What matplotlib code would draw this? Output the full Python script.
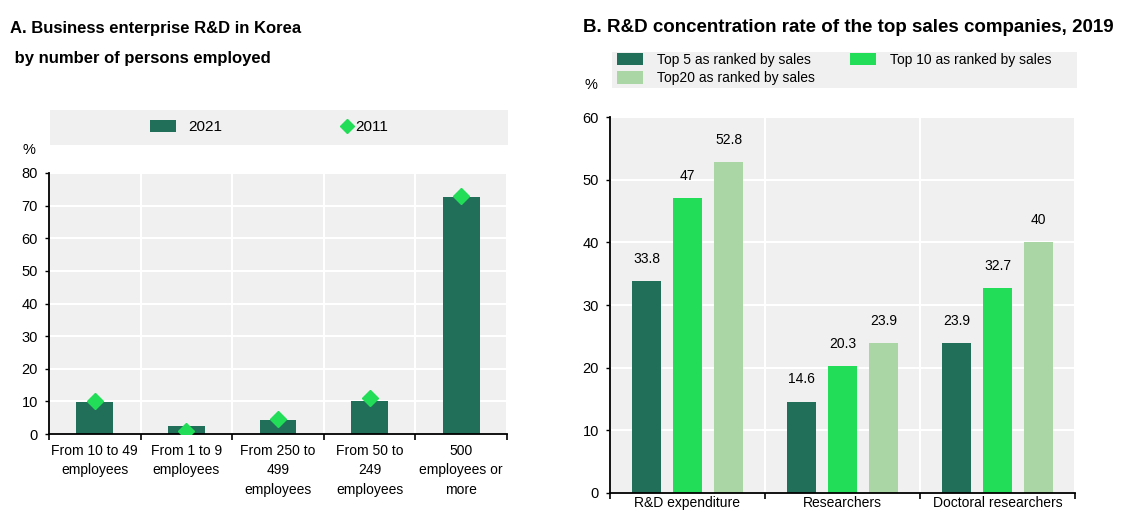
import numpy as np
import matplotlib
matplotlib.use('Agg')
import matplotlib.pyplot as plt
from matplotlib.patches import Rectangle, Patch
from matplotlib.lines import Line2D

plt.rcParams['font.family'] = ['Liberation Sans', 'DejaVu Sans']

# Panel A data
size_classes = ['From 10 to 49\nemployees', 'From 1 to 9\nemployees', 'From 250 to\n499\nemployees',
                'From 50 to\n249\nemployees', '500\nemployees or\nmore']
share_2021 = [9.8, 2.5, 4.3, 10.0, 72.6]
share_2011 = [10.0, 1.0, 4.5, 11.0, 73.0]

# Panel B data
indicators = ['R&D expenditure', 'Researchers', 'Doctoral researchers']
series_names = ['Top 5 as ranked by sales', 'Top 10 as ranked by sales', 'Top20 as ranked by sales']
top5 = [33.8, 14.6, 23.9]
top10 = [47, 20.3, 32.7]
top20 = [52.8, 23.9, 40]

DARK = '#216e59'
BRIGHT = '#22dd57'
LIGHT = '#a9d6a4'
BG = '#f0f0f0'
FS = 10.5      # tick numbers
FL = 10        # labels / legend

W, H = 1133, 514
fig = plt.figure(figsize=(W / 100, H / 100), dpi=100)


def px(x0, y0, x1, y1):
    """pixel box (top-left origin) -> figure fraction rect"""
    return [x0 / W, 1 - y1 / H, (x1 - x0) / W, (y1 - y0) / H]


def style_axes(ax, n, ymax, step, xpad):
    ax.set_facecolor(BG)
    ax.set_xlim(-0.5, n - 0.5)
    ax.set_ylim(0, ymax)
    ax.set_yticks(np.arange(0, ymax + 1, step))
    ax.set_xticks(range(n))
    ax.set_xticks(np.arange(-0.5, n, 1.0), minor=True)
    ax.grid(axis='y', color='white', linewidth=1.5)
    ax.grid(axis='x', which='minor', color='white', linewidth=1.5)
    ax.set_axisbelow(True)
    for s in ('top', 'right'):
        ax.spines[s].set_visible(False)
    ax.spines['left'].set_linewidth(1.3)
    ax.spines['bottom'].set_linewidth(1.3)
    ax.tick_params(axis='x', which='major', length=0, labelsize=FL, pad=xpad)
    ax.tick_params(axis='x', which='minor', length=4, width=1.2, direction='out')
    ax.tick_params(axis='y', length=3, width=1, labelsize=FS, pad=5)


# ---- Panel A ----
axA = fig.add_axes(px(49, 173, 507, 434))
style_axes(axA, len(size_classes), 80, 10, 7)
xa = np.arange(len(size_classes))
axA.bar(xa, share_2021, width=0.4, color=DARK, zorder=2)
axA.plot(xa, share_2011, linestyle='none', marker='D', markersize=8, color=BRIGHT, zorder=3)
axA.set_xticklabels(size_classes, linespacing=1.5)

fig.text(10 / W, 1 - 28 / H, 'A. Business enterprise R&D in Korea', fontsize=12,
         fontweight='bold', va='center', ha='left')
fig.text(10 / W, 1 - 58 / H, ' by number of persons employed', fontsize=12,
         fontweight='bold', va='center', ha='left')
fig.text(29 / W, 1 - 150 / H, '%', fontsize=FS, ha='center', va='center')

fig.patches.append(Rectangle((50 / W, 1 - 145 / H), 458 / W, 35 / H, transform=fig.transFigure,
                             facecolor=BG, edgecolor='none', zorder=0))
fig.legend(handles=[Patch(facecolor=DARK, label='2021')], loc='center left',
           bbox_to_anchor=(150 / W, 1 - 127 / H), frameon=False, fontsize=FL + 1,
           handlelength=1.7, handleheight=0.85, handletextpad=0.8,
           borderaxespad=0, borderpad=0)
fig.legend(handles=[Line2D([], [], linestyle='none', marker='D', markersize=7, color=BRIGHT,
                           label='2011')],
           loc='center left', bbox_to_anchor=(342 / W, 1 - 127 / H), frameon=False,
           fontsize=FL + 1, handlelength=0.6, handletextpad=0.3, borderaxespad=0, borderpad=0)

# ---- Panel B ----
axB = fig.add_axes(px(610, 117, 1075, 493))
style_axes(axB, len(indicators), 60, 10, 2)
xb = np.arange(len(indicators))
bw = 0.19
off = 0.265
for vals, col, k in [(top5, DARK, -1), (top10, BRIGHT, 0), (top20, LIGHT, 1)]:
    bars = axB.bar(xb + k * off, vals, width=bw, color=col, zorder=2)
    axB.bar_label(bars, labels=[f'{v:g}' for v in vals], padding=11, fontsize=FL)
axB.set_xticklabels(indicators)

fig.text(583 / W, 1 - 28 / H, 'B. R&D concentration rate of the top sales companies, 2019',
         fontsize=13.5, fontweight='bold', va='center', ha='left')
fig.text(591 / W, 1 - 85 / H, '%', fontsize=FS, ha='center', va='center')

fig.patches.append(Rectangle((612 / W, 1 - 88 / H), 465 / W, 36 / H, transform=fig.transFigure,
                             facecolor=BG, edgecolor='none', zorder=0))
hB = [Patch(facecolor=DARK, label=series_names[0]),
      Patch(facecolor=LIGHT, label=series_names[2]),
      Patch(facecolor=BRIGHT, label=series_names[1])]
fig.legend(handles=hB, loc='upper left', bbox_to_anchor=(617 / W, 1 - 53 / H), ncol=2,
           frameon=False, fontsize=FL, handlelength=1.9, handleheight=1.0,
           handletextpad=1.0, columnspacing=2.5, labelspacing=0.3, borderaxespad=0,
           borderpad=0)

fig.savefig('out.png', dpi=100)
